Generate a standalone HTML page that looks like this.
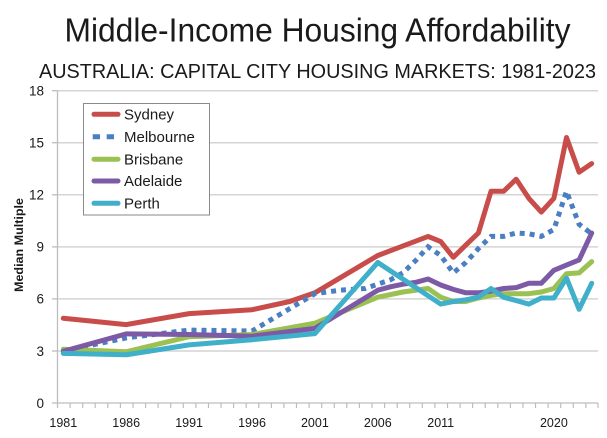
<!DOCTYPE html>
<html>
<head>
<meta charset="utf-8">
<style>
  html, body { margin: 0; padding: 0; background: #ffffff; }
  body { width: 607px; height: 438px; overflow: hidden; }
  svg { display: block; }
  text { font-family: "Liberation Sans", Arial, sans-serif; fill: #1a1a1a; }
</style>
</head>
<body>
<svg width="607" height="438" viewBox="0 0 607 438" xmlns="http://www.w3.org/2000/svg">
  <rect x="0" y="0" width="607" height="438" fill="#ffffff"/>

  <!-- Titles -->
  <text x="64.5" y="41.5" font-size="33" textLength="506" lengthAdjust="spacingAndGlyphs">Middle-Income Housing Affordability</text>
  <text x="39" y="78" font-size="20.5" textLength="557" lengthAdjust="spacingAndGlyphs">AUSTRALIA: CAPITAL CITY HOUSING MARKETS: 1981-2023</text>

  <!-- Gridlines -->
  <g stroke="#d4d4d4" stroke-width="1.5">
    <line x1="57.5" y1="90.7" x2="598" y2="90.7"/>
    <line x1="57.5" y1="142.7" x2="598" y2="142.7"/>
    <line x1="57.5" y1="194.8" x2="598" y2="194.8"/>
    <line x1="57.5" y1="246.9" x2="598" y2="246.9"/>
    <line x1="57.5" y1="298.9" x2="598" y2="298.9"/>
    <line x1="57.5" y1="351" x2="598" y2="351"/>
  </g>

  <!-- Axes -->
  <g stroke="#bdbdbd" stroke-width="1.3">
    <line x1="57.5" y1="90.7" x2="57.5" y2="403"/>
    <line x1="57.5" y1="403" x2="598" y2="403"/>
    <!-- y ticks -->
    <line x1="52" y1="90.7" x2="57.5" y2="90.7"/>
    <line x1="52" y1="142.7" x2="57.5" y2="142.7"/>
    <line x1="52" y1="194.8" x2="57.5" y2="194.8"/>
    <line x1="52" y1="246.9" x2="57.5" y2="246.9"/>
    <line x1="52" y1="298.9" x2="57.5" y2="298.9"/>
    <line x1="52" y1="351" x2="57.5" y2="351"/>
    <line x1="52" y1="403" x2="57.5" y2="403"/>
  </g>
  <!-- x ticks -->
  <path stroke="#bdbdbd" stroke-width="1.2" fill="none" d="
    M57.5 403 v5 M70.1 403 v5 M82.7 403 v5 M95.2 403 v5 M107.8 403 v5 M120.4 403 v5 M133 403 v5 M145.6 403 v5 M158.1 403 v5 M170.7 403 v5
    M183.3 403 v5 M195.9 403 v5 M208.5 403 v5 M221 403 v5 M233.6 403 v5 M246.2 403 v5 M258.8 403 v5 M271.4 403 v5 M283.9 403 v5 M296.5 403 v5
    M309.1 403 v5 M321.7 403 v5 M334.3 403 v5 M346.8 403 v5 M359.4 403 v5 M372 403 v5 M384.6 403 v5 M397.2 403 v5 M409.7 403 v5 M422.3 403 v5
    M434.9 403 v5 M447.5 403 v5 M460.1 403 v5 M472.6 403 v5 M485.2 403 v5 M497.8 403 v5 M510.4 403 v5 M523 403 v5 M535.5 403 v5 M548.1 403 v5
    M560.7 403 v5 M573.3 403 v5 M585.9 403 v5 M598 403 v5"/>

  <!-- Y tick labels -->
  <g font-size="13.5" text-anchor="end">
    <text x="44" y="95.5">18</text>
    <text x="44" y="147.5">15</text>
    <text x="44" y="199.6">12</text>
    <text x="44" y="251.7">9</text>
    <text x="44" y="303.7">6</text>
    <text x="44" y="355.8">3</text>
    <text x="44" y="407.8">0</text>
  </g>

  <!-- X tick labels -->
  <g font-size="12.5" text-anchor="middle">
    <text x="63.3" y="427">1981</text>
    <text x="126.2" y="427">1986</text>
    <text x="189.1" y="427">1991</text>
    <text x="252" y="427">1996</text>
    <text x="314.9" y="427">2001</text>
    <text x="377.8" y="427">2006</text>
    <text x="440.7" y="427">2011</text>
    <text x="553.9" y="427">2020</text>
  </g>

  <!-- Y axis title -->
  <text transform="translate(23,245) rotate(-90)" font-size="12" font-weight="bold" text-anchor="middle" textLength="94" lengthAdjust="spacingAndGlyphs">Median Multiple</text>

  <!-- Series -->
  <g fill="none" stroke-width="5" stroke-linejoin="round" stroke-linecap="round">
    <!-- Sydney -->
    <polyline stroke="#c84d4a" points="63.3,318.3 126.2,324.6 189.1,313.6 252,309.7 289.7,301.5 314.9,292.8 377.8,255.5 428.1,236.4 440.7,241.6 453.3,257.3 465.8,245.1 478.4,233 491,191.3 503.6,191.3 516.2,179.2 528.8,198.3 541.3,212.1 553.9,198.3 566.5,137.5 579.1,172.2 591.7,163.6"/>
    <!-- Melbourne (dotted) -->
    <polyline stroke="#4a7fc1" stroke-linecap="butt" stroke-linejoin="miter" stroke-dasharray="5 5" points="63.3,351 126.2,337.9 189.1,330.1 252,331 314.9,293.7 340,290.2 365.2,288.5 377.8,284.2 390.4,279.8 402.9,272.9 415.5,260.7 428.1,246.8 440.7,255.5 453.3,272.9 465.8,262.5 478.4,248.6 491,236.4 503.6,236.4 516.2,233 528.8,233.8 541.3,236.4 553.9,229.5 566.5,191.3 579.1,224.3 591.7,233.8"/>
    <!-- Brisbane -->
    <polyline stroke="#9bc153" points="63.3,349.2 126.2,351.8 189.1,336.7 252,334.5 314.9,323.2 377.8,297.2 402.9,292 428.1,288.5 440.7,297.2 453.3,301.5 465.8,301.5 478.4,298 491,295.4 503.6,293.7 516.2,293.7 528.8,293.7 541.3,292 553.9,288.5 566.5,273.7 579.1,272.9 591.7,261.6"/>
    <!-- Adelaide -->
    <polyline stroke="#7d5aa6" points="63.3,351.3 126.2,333.9 189.1,334.5 252,336.2 314.9,328.4 377.8,290.2 390.4,286.8 402.9,284.2 415.5,282.4 428.1,279 440.7,285 453.3,289.4 465.8,292.8 478.4,292.8 491,291.1 503.6,288.5 516.2,287.6 528.8,283.3 541.3,283.3 553.9,270.3 566.5,265.1 579.1,259.9 591.7,233"/>
    <!-- Perth -->
    <polyline stroke="#40afc9" points="63.3,353.4 126.2,354.8 189.1,344.9 252,339.7 314.9,333.6 377.8,262.5 440.7,304.1 453.3,301.5 465.8,299.8 478.4,297.2 491,288.5 503.6,297.2 516.2,300.6 528.8,304.1 541.3,298 553.9,298 566.5,278.1 579.1,309.3 591.7,283.3"/>
  </g>

  <!-- Legend -->
  <rect x="83.5" y="103.5" width="126" height="111.5" fill="#ffffff" stroke="#8a8a8a" stroke-width="1"/>
  <g stroke-width="5" fill="none">
    <line x1="94" y1="114.3" x2="118" y2="114.3" stroke="#c84d4a" stroke-linecap="round"/>
    <line x1="92.7" y1="136.7" x2="114" y2="136.7" stroke="#4a7fc1" stroke-dasharray="7.3 6.7"/>
    <line x1="94" y1="159.2" x2="118" y2="159.2" stroke="#9bc153" stroke-linecap="round"/>
    <line x1="94" y1="181" x2="118" y2="181" stroke="#7d5aa6" stroke-linecap="round"/>
    <line x1="94" y1="203.3" x2="118" y2="203.3" stroke="#40afc9" stroke-linecap="round"/>
  </g>
  <g font-size="15">
    <text x="124" y="119.5">Sydney</text>
    <text x="124" y="141.9">Melbourne</text>
    <text x="124" y="164.4">Brisbane</text>
    <text x="124" y="186.2">Adelaide</text>
    <text x="124" y="208.5">Perth</text>
  </g>
</svg>
</body>
</html>
